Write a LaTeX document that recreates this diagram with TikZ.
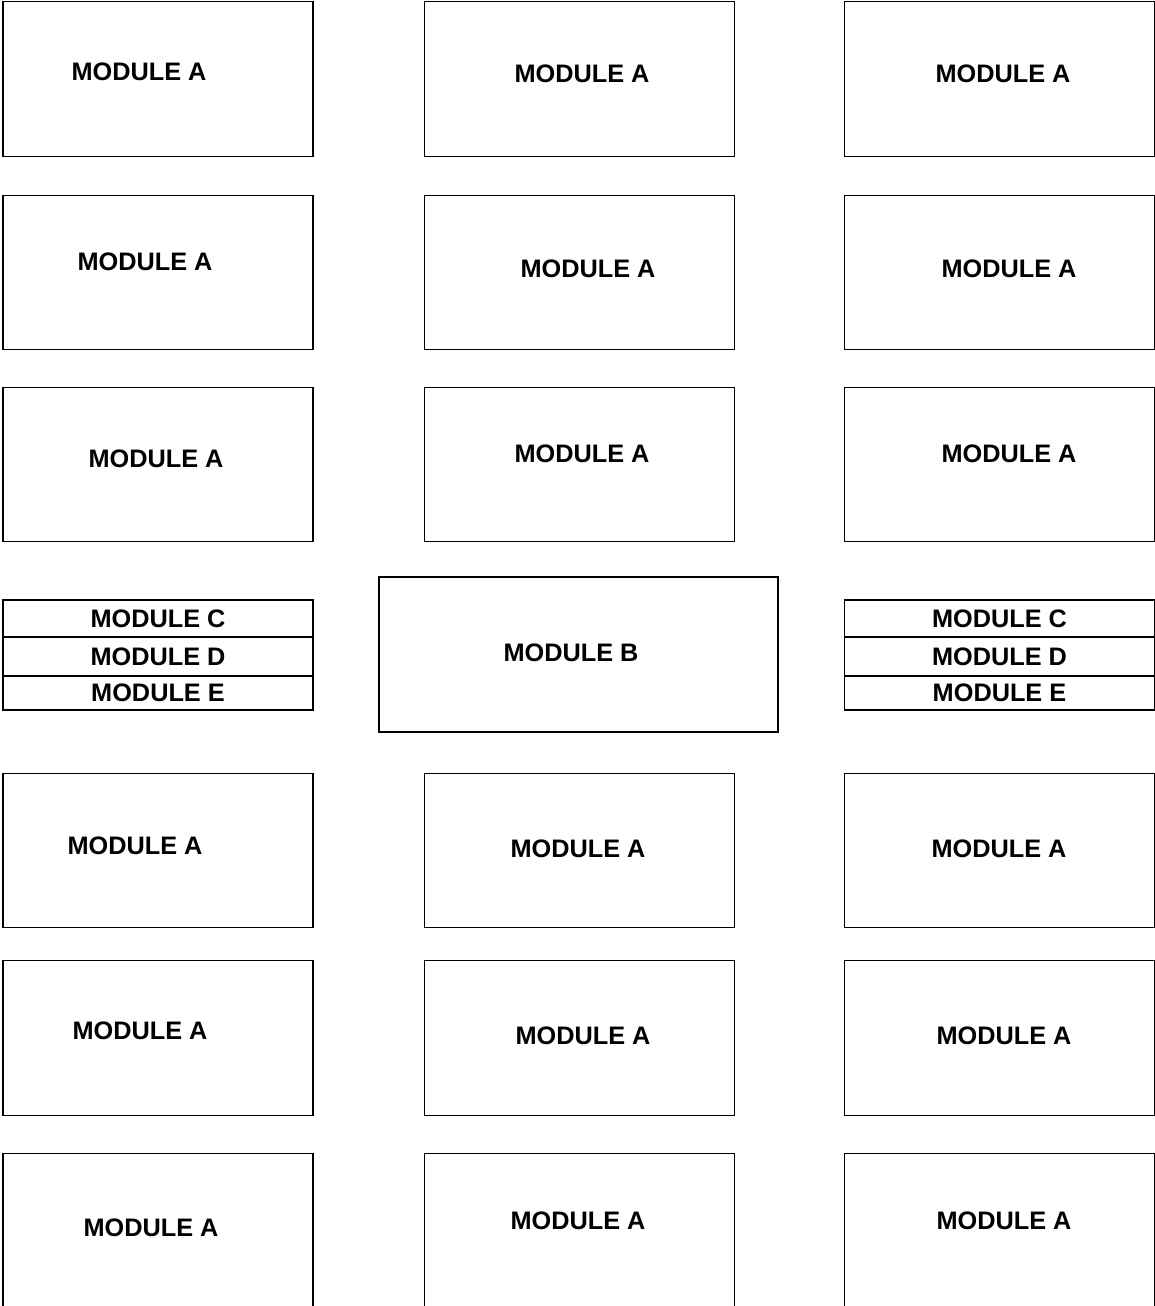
\documentclass[tikz,border=0pt]{standalone}
\usepackage{fontspec}
\setmainfont{Liberation Sans}

\begin{document}
\begin{tikzpicture}[x=0.02cm, y=-0.02cm,
        modbox/.style={draw, line width=0.8pt, minimum width=6.2cm, minimum height=3.09cm, inner sep=0pt},
        slot/.style={draw, line width=0.8pt, minimum width=6.2cm, inner sep=0pt, font=\bfseries\fontsize{14.4}{17}\selectfont},
        modtext/.style={font=\bfseries\fontsize{14.4}{17}\selectfont, inner sep=0pt}]
        \useasboundingbox (0,0) rectangle (1155,1306);

        % Boxes, top three rows
        \node[modbox] (A11) at (158,79) {};
        \node[modbox] (A12) at (579.5,79) {};
        \node[modbox] (A13) at (999.5,79) {};
        \node[modbox] (A21) at (158,272.5) {};
        \node[modbox] (A22) at (579.5,272.5) {};
        \node[modbox] (A23) at (999.5,272.5) {};
        \node[modbox] (A31) at (158,464.5) {};
        \node[modbox] (A32) at (579.5,464.5) {};
        \node[modbox] (A33) at (999.5,464.5) {};

        % Labels, top three rows
        \node[modtext] (L11) at (139,72) {MODULE A};
        \node[modtext] (L12) at (582,74) {MODULE A};
        \node[modtext] (L13) at (1003,74) {MODULE A};
        \node[modtext] (L21) at (145,262) {MODULE A};
        \node[modtext] (L22) at (588,269) {MODULE A};
        \node[modtext] (L23) at (1009,269) {MODULE A};
        \node[modtext] (L31) at (156,459) {MODULE A};
        \node[modtext] (L32) at (582,454) {MODULE A};
        \node[modtext] (L33) at (1009,454) {MODULE A};

        % Middle row: stacks and module B
        \node[slot, minimum height=0.74cm] (C1) at (158,618.5) {MODULE C};
        \node[slot, minimum height=0.78cm] (D1) at (158,656.5) {MODULE D};
        \node[slot, minimum height=0.68cm] (E1) at (158,693) {MODULE E};
        \node[slot, minimum height=0.74cm] (C3) at (999.5,618.5) {MODULE C};
        \node[slot, minimum height=0.78cm] (D3) at (999.5,656.5) {MODULE D};
        \node[slot, minimum height=0.68cm] (E3) at (999.5,693) {MODULE E};
        \node[modbox, minimum width=7.98cm, minimum height=3.1cm] (B) at (578.5,654.5) {};
        \node[modtext] (LB) at (571,653) {MODULE B};

        % Boxes, bottom three rows
        \node[modbox] (A51) at (158,850.5) {};
        \node[modbox] (A52) at (579.5,850.5) {};
        \node[modbox] (A53) at (999.5,850.5) {};
        \node[modbox] (A61) at (158,1038) {};
        \node[modbox] (A62) at (579.5,1038) {};
        \node[modbox] (A63) at (999.5,1038) {};
        \node[modbox] (A71) at (158,1231) {};
        \node[modbox] (A72) at (579.5,1231) {};
        \node[modbox] (A73) at (999.5,1231) {};

        % Labels, bottom three rows
        \node[modtext] (L51) at (135,846) {MODULE A};
        \node[modtext] (L52) at (578,849) {MODULE A};
        \node[modtext] (L53) at (999,849) {MODULE A};
        \node[modtext] (L61) at (140,1031) {MODULE A};
        \node[modtext] (L62) at (583,1036) {MODULE A};
        \node[modtext] (L63) at (1004,1036) {MODULE A};
        \node[modtext] (L71) at (151,1228) {MODULE A};
        \node[modtext] (L72) at (578,1221) {MODULE A};
        \node[modtext] (L73) at (1004,1221) {MODULE A};
    \end{tikzpicture}
\end{document}
